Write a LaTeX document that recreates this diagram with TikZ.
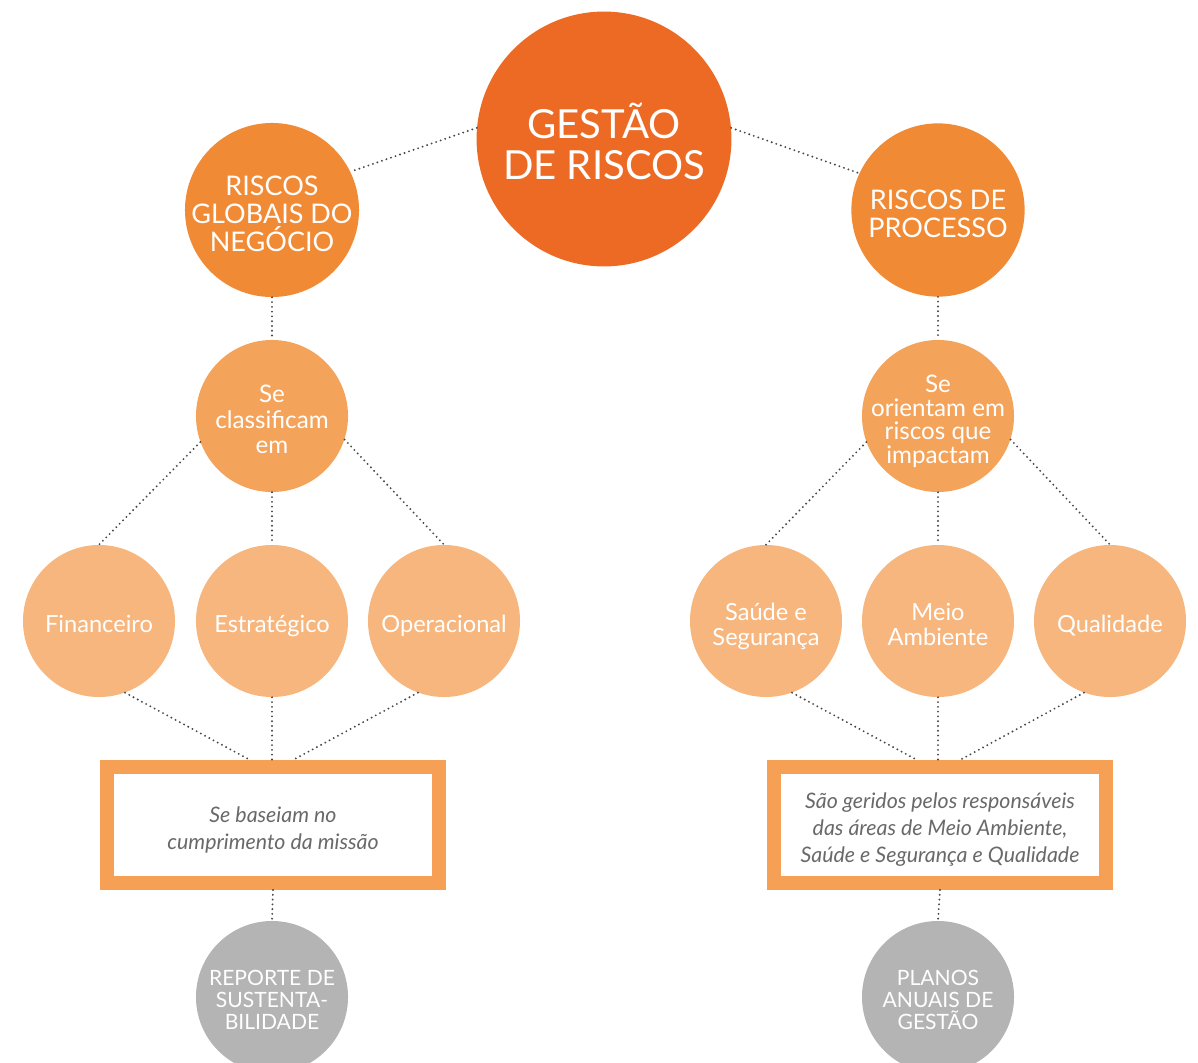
\documentclass[tikz,border=0pt]{standalone}
\usepackage{fontspec}
\setmainfont{Lato}
\usepackage{xcolor}
\usetikzlibrary{calc}

\definecolor{orangeA}{RGB}{236,106,35}
\definecolor{orangeB}{RGB}{240,138,52}
\definecolor{orangeC}{RGB}{244,163,90}
\definecolor{orangeD}{RGB}{247,182,125}
\definecolor{frameorange}{RGB}{245,160,85}
\definecolor{bubblegray}{RGB}{180,180,180}
\definecolor{notegray}{RGB}{105,105,105}

% fixed height of the first text line
\newcommand{\tstrut}{\rule{0pt}{1.25em}}

\begin{document}
\begin{tikzpicture}[x=0.025cm,y=-0.025cm,
    struts/.style={execute at end node={\rule[-0.25em]{0pt}{0pt}}},
    bubble/.style={circle, inner sep=-1cm, text=white, align=center, struts},
    link/.style={draw=black!72, line width=1.5pt, line cap=round, dash pattern=on 0pt off 3.4pt},
    notebox/.style={draw=frameorange, fill=white, line width=0.35cm, minimum width=8.3cm,
        minimum height=2.9cm, align=center, text=notegray, struts,
        font=\fontsize{15.2}{19.2}\selectfont\itshape}]
    \clip (0,0) rectangle (1198,1063);
    % top level
    \node[bubble, fill=orangeA, minimum size=6.37cm, font=\fontsize{28.5}{28.8}\selectfont]
        (gestao) at (604,139) {\tstrut GESTÃO\\DE RISCOS};
    \node[bubble, fill=orangeB, minimum size=4.35cm, font=\fontsize{19.2}{20}\selectfont]
        (globais) at (272,210) {\tstrut RISCOS\\GLOBAIS DO\\NEGÓCIO};
    \node[bubble, fill=orangeB, minimum size=4.33cm, font=\fontsize{19.2}{20}\selectfont]
        (processo) at (938,210) {\tstrut RISCOS DE\\PROCESSO};
    % second level
    \node[bubble, fill=orangeC, minimum size=3.8cm, font=\fontsize{17.2}{18.2}\selectfont]
        (classif) at (272,416) {\tstrut Se\\classificam\\em};
    \node[bubble, fill=orangeC, minimum size=3.8cm, font=\fontsize{17.2}{16.8}\selectfont]
        (orient) at (938,416) {\tstrut Se\\orientam em\\riscos que\\impactam};
    % leaves
    \node[bubble, fill=orangeD, minimum size=3.8cm, font=\fontsize{16.8}{17.8}\selectfont]
        (financ) at (99,621) {\tstrut Financeiro};
    \node[bubble, fill=orangeD, minimum size=3.8cm, font=\fontsize{16.8}{17.8}\selectfont]
        (estrat) at (272,621) {\tstrut Estratégico};
    \node[bubble, fill=orangeD, minimum size=3.8cm, font=\fontsize{16.8}{17.8}\selectfont]
        (operac) at (444,621) {\tstrut Operacional};
    \node[bubble, fill=orangeD, minimum size=3.8cm, font=\fontsize{16.8}{17.8}\selectfont]
        (saude) at (766,621) {\tstrut Saúde e\\Segurança};
    \node[bubble, fill=orangeD, minimum size=3.8cm, font=\fontsize{16.8}{17.8}\selectfont]
        (meio) at (938,621) {\tstrut Meio\\Ambiente};
    \node[bubble, fill=orangeD, minimum size=3.8cm, font=\fontsize{16.8}{17.8}\selectfont]
        (qualid) at (1110,621) {\tstrut Qualidade};
    % notes
    \node[notebox] (missao) at (273,825) {\tstrut Se baseiam no\\cumprimento da missão};
    \node[notebox] (gerid) at (940,825) {\tstrut São geridos pelos responsáveis\\das áreas de Meio Ambiente,\\Saúde e Segurança e Qualidade};
    % outputs
    \node[bubble, fill=bubblegray, minimum size=3.8cm, font=\fontsize{15}{15.6}\selectfont]
        (reporte) at (272,997) {\tstrut REPORTE DE\\SUSTENTA-\\BILIDADE};
    \node[bubble, fill=bubblegray, minimum size=3.8cm, font=\fontsize{15}{15.6}\selectfont]
        (planos) at (938,997) {\tstrut PLANOS\\ANUAIS DE\\GESTÃO};
    % dotted links
    \draw[link] (gestao.175) -- (globais.26);
    \draw[link] (gestao.5) -- (processo.155);
    \draw[link] (globais.south) -- (classif.north);
    \draw[link] (processo.south) -- (orient.north);
    \draw[link] (classif.200) -- (financ.north);
    \draw[link] (classif.south) -- (estrat.north);
    \draw[link] (classif.-18) -- (operac.north);
    \draw[link] (orient.200) -- (saude.north);
    \draw[link] (orient.south) -- (meio.north);
    \draw[link] (orient.-18) -- (qualid.north);
    \draw[link] (financ.-70) -- ($(missao.north)+(-23,0)$);
    \draw[link] (estrat.south) -- ($(missao.north)+(-1,0)$);
    \draw[link] (operac.250) -- ($(missao.north)+(20,0)$);
    \draw[link] (saude.-70) -- ($(gerid.north)+(-23,0)$);
    \draw[link] (meio.south) -- ($(gerid.north)+(-2,0)$);
    \draw[link] (qualid.250) -- ($(gerid.north)+(20,0)$);
    \draw[link] (missao.south) -- (reporte.north);
    \draw[link] (gerid.south) -- (planos.north);
\end{tikzpicture}
\end{document}
